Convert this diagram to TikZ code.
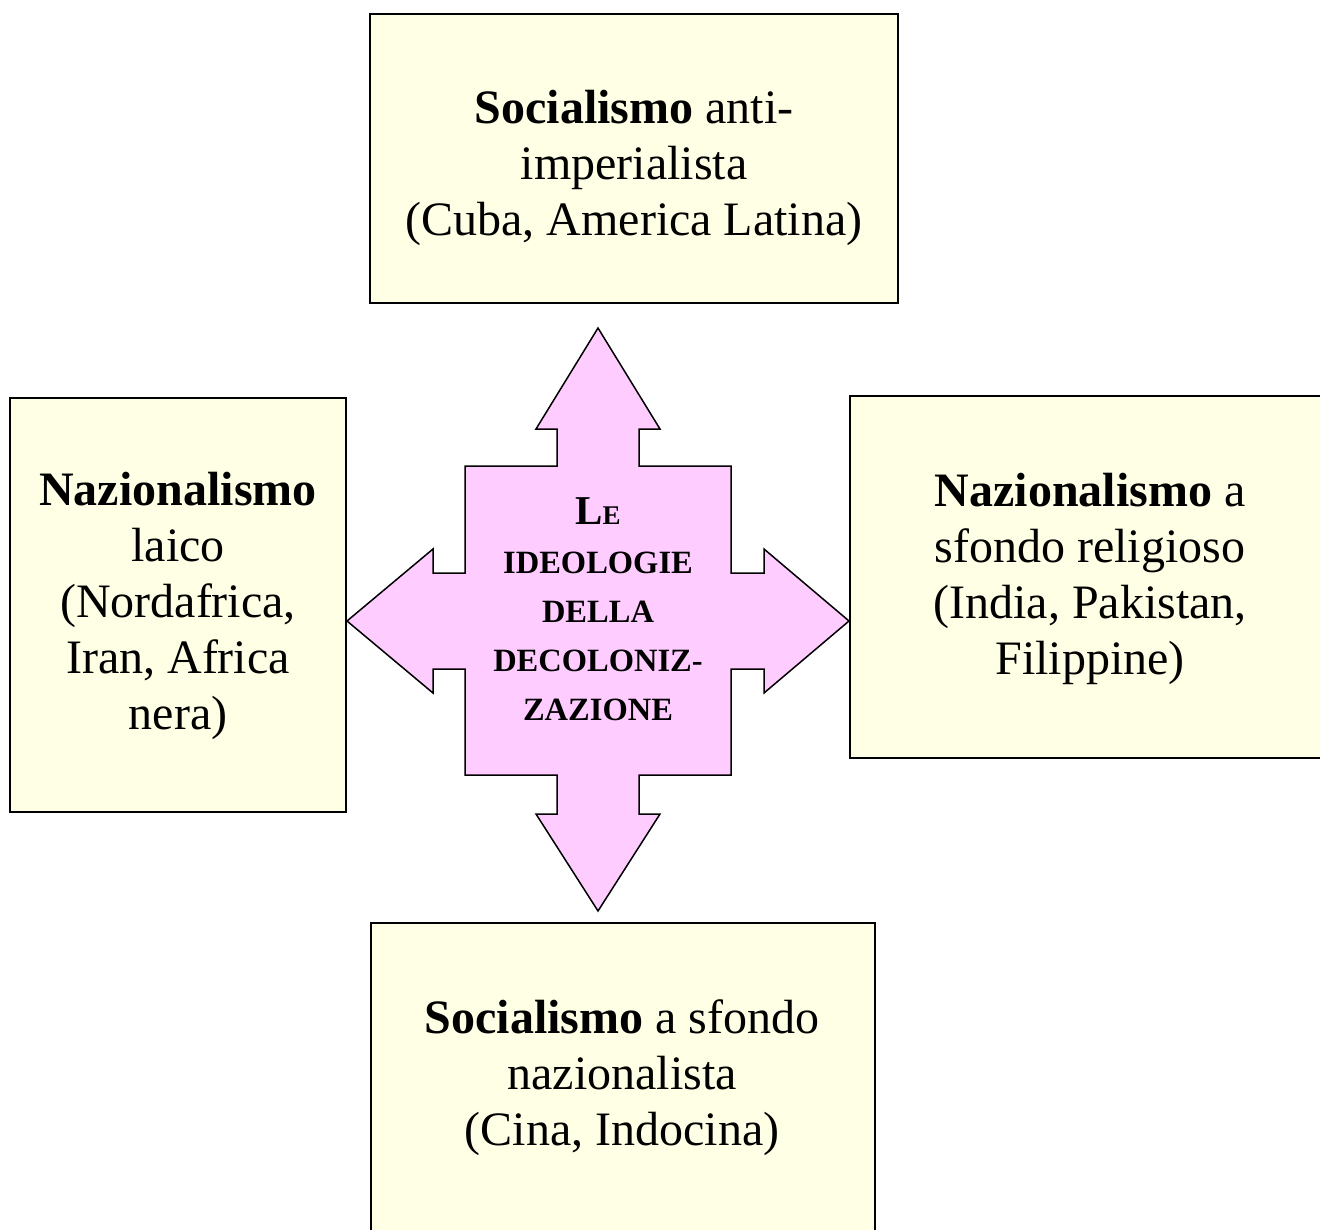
\documentclass[tikz,border=0pt]{standalone}
\usepackage{fontspec}
\setmainfont{Liberation Serif}
\definecolor{boxfill}{RGB}{255,255,229}
\definecolor{pinkfill}{RGB}{255,204,255}
\tikzset{
  ybox/.style={draw=black, line width=1.5pt, fill=boxfill},
  btext/.style={align=center, font=\fontsize{48}{56}\selectfont, inner sep=0pt},
  ctext/.style={align=center, font=\bfseries\fontsize{32.5}{49}\selectfont, inner sep=0pt},
  bigarrow/.style={draw=black, line width=1.5pt, fill=pinkfill, line join=miter}
}
\begin{document}
\begin{tikzpicture}[x=1pt,y=-1pt]
\useasboundingbox (0,0) rectangle (1320,1229);
\begin{scope}
\clip (0,0) rectangle (1320,1229);
% boxes
\draw[ybox] (370,14) rectangle (898,303);
\draw[ybox] (10,398) rectangle (346,812);
\draw[ybox] (850,396) rectangle (1335,758);
\draw[ybox] (371,923) rectangle (875,1240);
\end{scope}
% cross arrow
\draw[bigarrow] (598,328) -- (660,429) -- (639,429) -- (639,466) -- (731,466) -- (731,573) -- (764,573) -- (764,549) -- (849,621) -- (764,693) -- (764,669) -- (731,669) -- (731,775) -- (639,775) -- (639,814) -- (660,814) -- (598,911) -- (536,814) -- (557,814) -- (557,775) -- (465,775) -- (465,669) -- (433,669) -- (433,693) -- (347,621) -- (433,549) -- (433,573) -- (465,573) -- (465,466) -- (557,466) -- (557,429) -- (536,429) -- cycle;
% texts
\node[btext] (top) at (634,168) {\textbf{Socialismo} anti-\\imperialista\\(Cuba, America Latina)};
\node[btext] (left) at (178,606) {\textbf{Nazionalismo}\\laico\\(Nordafrica,\\Iran, Africa\\nera)};
\node[btext] (right) at (1090,579) {\textbf{Nazionalismo} a\\sfondo religioso\\(India, Pakistan,\\Filippine)};
\node[btext] (bottom) at (622,1078) {\textbf{Socialismo} a sfondo\\nazionalista\\(Cina, Indocina)};
\node[ctext] (center) at (598,609) {{\fontsize{41}{49}\selectfont L}{\fontsize{27}{49}\selectfont E}\\IDEOLOGIE\\DELLA\\DECOLONIZ-\\ZAZIONE};
\end{tikzpicture}
\end{document}
